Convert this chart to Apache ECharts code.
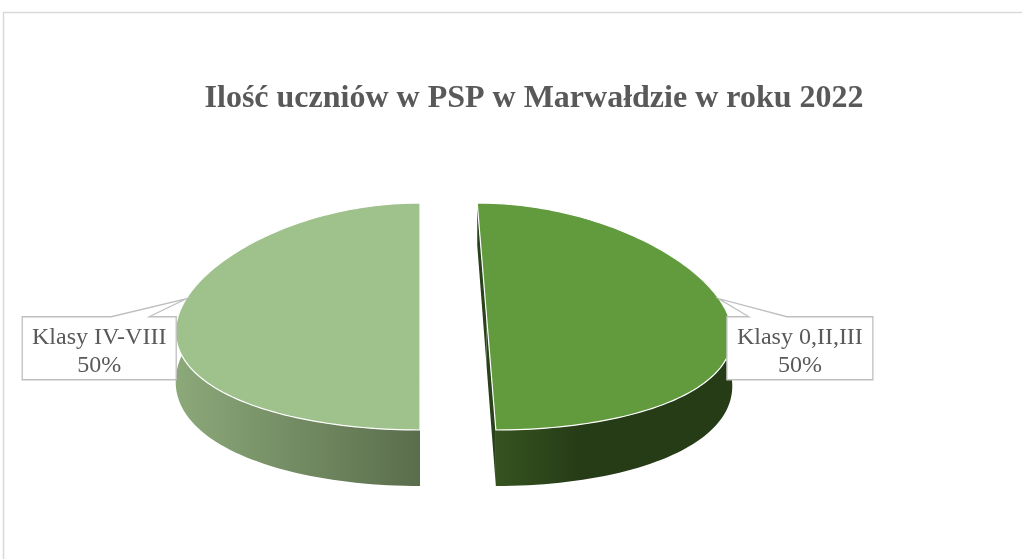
<!DOCTYPE html>
<html>
<head>
<meta charset="utf-8">
<script src="https://cdn.jsdelivr.net/npm/echarts@6/dist/echarts.min.js"></script>
<style>
  html, body { margin: 0; padding: 0; background: #ffffff; }
  #chart { width: 1022px; height: 559px; }
</style>
</head>
<body>
<div id="chart"></div>
<script>
// ---- data ----
const chartTitle = 'Ilość uczniów w PSP w Marwałdzie w roku 2022';
const categories = ['Klasy 0,II,III', 'Klasy IV-VIII'];
const values = [50, 50];
const explode = [0.275, 0];         // slice pulled out, as a fraction of the radius

// ---- style ----
const topColors = ['#629b3e', '#9fc18c'];
const wallColors = [['#36531f', '#263c17'], ['#8ca97a', '#5a6d4c']];
const cutColors = ['#2a421b', '#5a6d4c'];
const labelFont = '24px "Liberation Serif", "Times New Roman", serif';
const textColor = '#595959';

// 3D pie geometry (screen pixels): vanishing x, centre y, radius, half height of top ellipse, wall depth, perspective
const G = { vx: 420, cy: 316.5, R: 242, ry: 113.5, depth: 56, k: 0.14 };

function persp(T) { return 1 - G.k * T; }
// X: horizontal (radius units), T: depth (+1 back, -1 front), H: 0 top face, 1 bottom face
function proj(X, T, H) {
  const sc = persp(T);
  return [G.vx + X * G.R * sc, G.cy - T * G.ry + H * G.depth * sc / (1 + G.k)];
}

const total = values.reduce((a, b) => a + b, 0);
function sliceAngles(i) {
  let start = 0;
  for (let j = 0; j < i; j++) start += values[j] / total * 360;
  return [start, start + values[i] / total * 360];
}

const measureCtx = document.createElement('canvas').getContext('2d');
measureCtx.font = labelFont;

function renderSlice(params, api) {
  const i = params.dataIndex;
  const v = api.value(0);
  const [a, b] = sliceAngles(i);
  const mid = (a + b) / 2 * Math.PI / 180;
  const ex = explode[i] * Math.sin(mid);
  const et = explode[i] * Math.cos(mid);
  const rim = (deg, H) => {
    const r = deg * Math.PI / 180;
    return proj(ex + Math.sin(r), et + Math.cos(r), H);
  };
  const children = [];

  // outer wall (front part)
  const wa = Math.max(a, 45), wb = Math.min(b, 315);
  if (wb > wa) {
    const pts = [];
    const n = 80;
    for (let s = 0; s <= n; s++) pts.push(rim(wa + (wb - wa) * s / n, 0));
    for (let s = n; s >= 0; s--) pts.push(rim(wa + (wb - wa) * s / n, 1));
    children.push({
      type: 'polygon',
      shape: { points: pts },
      style: {
        fill: new echarts.graphic.LinearGradient(0, 0, 1, 0, [
          { offset: 0, color: wallColors[i][0] },
          { offset: i === 0 ? 0.35 : 1, color: wallColors[i][1] },
          { offset: 1, color: wallColors[i][1] }
        ])
      }
    });
  }

  // cut faces along the slice edges
  [a, b].forEach(deg => {
    children.push({
      type: 'polygon',
      shape: { points: [proj(ex, et, 0), rim(deg, 0), rim(deg, 1), proj(ex, et, 1)] },
      style: { fill: cutColors[i] }
    });
  });

  // top face
  const topPts = [proj(ex, et, 0)];
  const n = 120;
  for (let s = 0; s <= n; s++) topPts.push(rim(a + (b - a) * s / n, 0));
  children.push({
    type: 'polygon',
    shape: { points: topPts },
    style: { fill: topColors[i], stroke: '#ffffff', lineWidth: 1.2, lineJoin: 'round' }
  });

  // callout label
  const midDeg = (a + b) / 2;
  const right = midDeg < 180;
  const tip = rim(midDeg + (right ? -9 : 9), 0);
  const lines = [categories[i], Math.round(v / total * 100) + '%'];
  const tw = Math.max.apply(null, lines.map(t => measureCtx.measureText(t).width));
  const w = Math.round(tw + 20), h = 63;
  const top = tip[1] + 18;
  const left = right ? tip[0] + 8 : tip[0] - 10 - w;
  const p0 = right ? left + 22 : left + w - 65;
  const p1 = right ? left + 60 : left + w - 27;
  children.push({
    type: 'polygon',
    shape: {
      points: [[left, top], [p0, top], tip, [p1, top], [left + w, top],
               [left + w, top + h], [left, top + h]]
    },
    style: { fill: '#ffffff', stroke: '#bfbfbf', lineWidth: 1.3 }
  });
  lines.forEach((t, li) => {
    children.push({
      type: 'text',
      style: {
        text: t, x: left + w / 2, y: top + 21 + li * 28,
        font: labelFont, fill: textColor, align: 'center', verticalAlign: 'middle'
      }
    });
  });

  return { type: 'group', children: children };
}

const chart = echarts.init(document.getElementById('chart'), null, { renderer: 'canvas' });
chart.setOption({
  animation: false,
  backgroundColor: '#ffffff',
  title: {
    text: chartTitle,
    left: 529,
    textAlign: 'center',
    top: 78,
    textStyle: {
      fontFamily: '"Liberation Serif", "Times New Roman", serif',
      fontWeight: 'bold',
      fontSize: 32,
      color: textColor
    }
  },
  graphic: [{
    type: 'rect',
    shape: { x: 3.5, y: 12.5, width: 1100, height: 600 },
    style: { fill: 'none', stroke: '#d9d9d9', lineWidth: 1.5 },
    z: -1
  }],
  series: [{
    type: 'custom',
    coordinateSystem: 'none',
    renderItem: renderSlice,
    data: values.map((v, i) => ({ name: categories[i], value: [v] }))
  }]
});
</script>
</body>
</html>
